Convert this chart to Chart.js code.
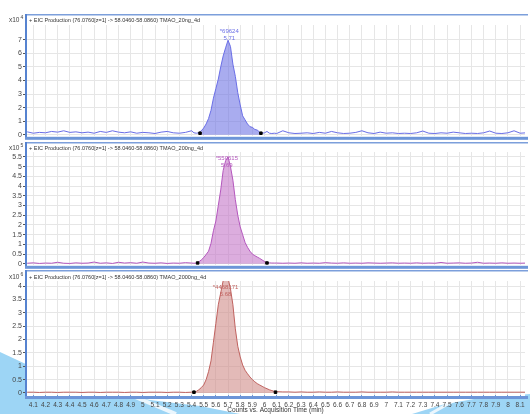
<!DOCTYPE html>
<html>
<head>
<meta charset="utf-8">
<script src="https://cdn.jsdelivr.net/npm/chart.js@4.4.0/dist/chart.umd.min.js"></script>
<style>
  html, body { margin: 0; padding: 0; background: #fff; }
  #wrap { position: relative; width: 530px; height: 414px; overflow: hidden; }
  #wrap svg { position: absolute; left: 0; top: 0; }
  .panel { position: absolute; left: 0; width: 530px; }
</style>
</head>
<body>
<div id="wrap">
  <svg width="530" height="414">
    <polygon points="0,352 30,366 70,380 110,392 150,400 200,406 240,414 0,414" fill="#9dd5f5"/>
    <line x1="128" y1="394" x2="176" y2="414" stroke="#ffffff" stroke-width="4" opacity="0.8"/>
    <polygon points="412,414 445,404 480,398 530,394 530,414" fill="#9dd5f5"/>
    <line x1="430" y1="414" x2="462" y2="396" stroke="#ffffff" stroke-width="3" opacity="0.8"/>
  </svg>
  <div class="panel" style="top:0;height:141px"><canvas id="c1" width="530" height="141"></canvas></div>
  <div class="panel" style="top:141px;height:129px"><canvas id="c2" width="530" height="129"></canvas></div>
  <div class="panel" style="top:270px;height:144px"><canvas id="c3" width="530" height="144"></canvas></div>
</div>
<script>
'use strict';

// acquisition time (min), shared by the three traces
const times = [
  4.05, 4.10, 4.15, 4.20, 4.25, 4.30, 4.35, 4.40, 4.45, 4.50, 4.55, 4.60, 4.65, 4.70,
  4.75, 4.80, 4.85, 4.90, 4.95, 5.00, 5.05, 5.10, 5.15, 5.20, 5.25, 5.30, 5.35, 5.40,
  5.42, 5.44, 5.46, 5.48, 5.50, 5.52, 5.54, 5.56, 5.58, 5.60, 5.62, 5.64, 5.66, 5.68,
  5.70, 5.72, 5.74, 5.76, 5.78, 5.80, 5.82, 5.84, 5.86, 5.88, 5.90, 5.92, 5.94, 5.96,
  5.98, 6.00, 6.02, 6.04, 6.06, 6.08, 6.10,
  6.15, 6.20, 6.25, 6.30, 6.35, 6.40, 6.45, 6.50, 6.55, 6.60, 6.65, 6.70, 6.75, 6.80,
  6.85, 6.90, 6.95, 7.00, 7.05, 7.10, 7.15, 7.20, 7.25, 7.30, 7.35, 7.40, 7.45, 7.50,
  7.55, 7.60, 7.65, 7.70, 7.75, 7.80, 7.85, 7.90, 7.95, 8.00, 8.05, 8.10, 8.15
];

// counts, x10^4
const counts20 = [
  0.22, 0.12, 0.18, 0.15, 0.25, 0.20, 0.30, 0.18, 0.22, 0.15, 0.20, 0.12, 0.25, 0.18,
  0.30, 0.20, 0.15, 0.22, 0.12, 0.18, 0.15, 0.10, 0.20, 0.25, 0.15, 0.12, 0.18, 0.30,
  0.15, 0.12, 0.15, 0.30, 0.50, 0.80, 1.20, 1.80, 2.70, 3.40, 4.10, 5.00, 5.80, 6.40,
  6.96, 6.50, 5.20, 4.30, 3.10, 2.20, 1.40, 1.10, 0.80, 0.60, 0.55, 0.40, 0.35, 0.20,
  0.12, 0.15, 0.25, 0.12, 0.10, 0.12, 0.10,
  0.30, 0.15, 0.10, 0.12, 0.15, 0.10, 0.18, 0.12, 0.25, 0.15, 0.10, 0.12, 0.18, 0.30,
  0.15, 0.10, 0.20, 0.12, 0.15, 0.10, 0.12, 0.10, 0.15, 0.28, 0.12, 0.10, 0.15, 0.12,
  0.20, 0.15, 0.10, 0.12, 0.10, 0.15, 0.28, 0.12, 0.10, 0.15, 0.30, 0.12, 0.15
];

// counts, x10^5
const counts200 = [
  0.03, 0.05, 0.02, 0.04, 0.03, 0.08, 0.03, 0.02, 0.05, 0.03, 0.04, 0.09, 0.03, 0.05,
  0.02, 0.08, 0.04, 0.06, 0.03, 0.09, 0.04, 0.03, 0.05, 0.02, 0.04, 0.03, 0.06, 0.04,
  0.03, 0.04, 0.10, 0.20, 0.32, 0.48, 0.65, 1.05, 1.70, 2.20, 3.00, 3.80, 4.80, 5.30,
  5.506, 5.00, 4.30, 3.30, 2.50, 1.90, 1.50, 1.10, 0.85, 0.65, 0.50, 0.42, 0.35, 0.28,
  0.20, 0.12, 0.07, 0.05, 0.04, 0.04, 0.04,
  0.03, 0.04, 0.03, 0.05, 0.03, 0.04, 0.03, 0.06, 0.04, 0.03, 0.05, 0.03, 0.04, 0.03,
  0.05, 0.04, 0.03, 0.04, 0.05, 0.03, 0.04, 0.03, 0.05, 0.03, 0.04, 0.03, 0.07, 0.03,
  0.04, 0.05, 0.03, 0.04, 0.08, 0.03, 0.04, 0.03, 0.05, 0.03, 0.04, 0.03, 0.04
];

// counts, x10^6
const counts2000 = [
  0.03, 0.03, 0.02, 0.03, 0.03, 0.02, 0.03, 0.03, 0.03, 0.02, 0.03, 0.03, 0.02, 0.03,
  0.03, 0.03, 0.02, 0.03, 0.03, 0.02, 0.03, 0.03, 0.03, 0.02, 0.03, 0.03, 0.02, 0.03,
  0.03, 0.06, 0.12, 0.20, 0.30, 0.50, 0.80, 1.20, 1.90, 2.60, 3.30, 3.75, 4.20, 4.47,
  4.30, 3.90, 3.30, 2.40, 1.75, 1.35, 1.05, 0.85, 0.72, 0.60, 0.50, 0.42, 0.35, 0.30,
  0.25, 0.20, 0.16, 0.12, 0.09, 0.06, 0.05,
  0.04, 0.04, 0.03, 0.04, 0.03, 0.03, 0.04, 0.03, 0.03, 0.04, 0.03, 0.03, 0.03, 0.04,
  0.03, 0.03, 0.03, 0.03, 0.04, 0.03, 0.03, 0.03, 0.03, 0.03, 0.03, 0.03, 0.03, 0.03,
  0.03, 0.03, 0.03, 0.03, 0.03, 0.03, 0.03, 0.03, 0.03, 0.03, 0.03, 0.03, 0.03
];

const xTicks = [
  4.1, 4.2, 4.3, 4.4, 4.5, 4.6, 4.7, 4.8, 4.9, 5.0, 5.1, 5.2, 5.3, 5.4, 5.5, 5.6, 5.7,
  5.8, 5.9, 6.0, 6.1, 6.2, 6.3, 6.4, 6.5, 6.6, 6.7, 6.8, 6.9, 7.0, 7.1, 7.2, 7.3, 7.4,
  7.5, 7.6, 7.7, 7.8, 7.9, 8.0, 8.1
];
const yTicks20 = [0, 1, 2, 3, 4, 5, 6, 7];
const yTicks200 = [0, 0.5, 1, 1.5, 2, 2.5, 3, 3.5, 4, 4.5, 5, 5.5];
const yTicks2000 = [0, 0.5, 1, 1.5, 2, 2.5, 3, 3.5, 4];

const sampleNames = ['TMAO_20ng_4d', 'TMAO_200ng_4d', 'TMAO_2000ng_4d'];
const exponents = ['4', '5', '6'];
const peakRts = ['5.71', '5.69', '5.68'];
const peakLabels = ['*69624', '*550615', '*4468171'];
const peakTimes = [5.71, 5.69, 5.68];
const integStart = [5.47, 5.45, 5.42];
const integEnd = [5.97, 6.02, 6.09];
const integLevel = [0.12, 0.04, 0.03];

const headerPrefix = '+ EIC Production (76.0760[z=1] -> 58.0460-58.0860) ';
const xTitle = 'Counts vs. Acquisition Time (min)';

function points(ys) {
  return times.map((t, i) => ({ x: t, y: ys[i] }));
}

function peakPoints(ys, from, to) {
  return times.map((t, i) => ({ x: t, y: (t >= from && t <= to) ? ys[i] : null }));
}

function decoPlugin(p) {
  return {
    id: 'deco' + p.idx,
    beforeDraw(chart) {
      const { ctx, chartArea: a } = chart;
      ctx.save();
      ctx.fillStyle = '#ffffff';
      ctx.fillRect(a.left, p.frameTop, a.right - a.left, a.bottom - p.frameTop + 1);
      ctx.restore();
    },
    afterDraw(chart) {
      const { ctx, chartArea: a } = chart;
      const xs = chart.scales.x, ys = chart.scales.y;
      ctx.save();
      // frame
      ctx.fillStyle = '#7c9fdb';
      ctx.fillRect(a.left, p.frameTop, a.right - a.left + 3, 1.5);
      ctx.fillStyle = '#5683d0';
      ctx.fillRect(a.left - 1, p.frameTop, 2, a.bottom - p.frameTop + 2);
      ctx.fillStyle = '#6d95d8';
      ctx.fillRect(a.left - 1, a.bottom + 1, a.right - a.left + 4, 3);

      // header
      ctx.fillStyle = '#333';
      ctx.textBaseline = 'middle';
      ctx.textAlign = 'left';
      ctx.font = '6px "Liberation Sans", Arial, sans-serif';
      ctx.save();
      ctx.translate(a.left + 3, p.headerY);
      ctx.scale(0.92, 1);
      ctx.fillText(headerPrefix + sampleNames[p.idx], 0, 0);
      ctx.restore();

      // exponent
      ctx.font = '6.5px "Liberation Sans", Arial, sans-serif';
      ctx.fillStyle = '#444';
      ctx.fillText('x10', 9, p.headerY);
      const w = ctx.measureText('x10').width;
      ctx.font = '5px "Liberation Sans", Arial, sans-serif';
      ctx.fillText(exponents[p.idx], 9 + w + 1, p.headerY - 2);

      // peak label
      const series = p.series;
      const apex = Math.max.apply(null, series);
      const px = xs.getPixelForValue(peakTimes[p.idx]);
      const y1 = Math.max(ys.getPixelForValue(apex) - 10, a.top + 6);
      ctx.fillStyle = p.line;
      ctx.textAlign = 'center';
      ctx.font = '6px "Liberation Sans", Arial, sans-serif';
      ctx.fillText(peakLabels[p.idx], px, y1);
      ctx.fillText(peakRts[p.idx], px, y1 + 7);

      if (p.showX) {
        ctx.fillStyle = '#333';
        ctx.font = '6.5px "Liberation Sans", Arial, sans-serif';
        ctx.fillText(xTitle, (a.left + a.right) / 2, a.bottom + 15);
      }
      ctx.restore();
    }
  };
}

function makePanel(p) {
  const ctx = document.getElementById(p.canvas).getContext('2d');
  const chartObj = {
    type: 'line',
    data: {
      datasets: [{
        data: [{ x: integStart[p.idx], y: integLevel[p.idx] }, { x: integEnd[p.idx], y: integLevel[p.idx] }],
        showLine: false,
        pointStyle: 'rect',
        pointRadius: 1.8,
        pointBackgroundColor: '#000',
        pointBorderColor: '#000',
        order: 0
      }, {
        data: points(p.series),
        borderColor: p.line,
        borderWidth: 1,
        pointRadius: 0,
        fill: false,
        order: 1
      }, {
        data: peakPoints(p.series, integStart[p.idx], integEnd[p.idx]),
        borderWidth: 0,
        borderColor: 'rgba(0,0,0,0)',
        backgroundColor: p.fill,
        pointRadius: 0,
        fill: 'origin',
        spanGaps: false,
        order: 2
      }]
    },
    options: {
      responsive: false,
      animation: false,
      events: [],
      layout: { padding: { top: p.top, bottom: p.bottom, left: 0, right: 3 } },
      plugins: { legend: { display: false }, tooltip: { enabled: false } },
      scales: {
        x: {
          type: 'linear',
          min: 4.04,
          max: 8.14,
          afterBuildTicks: s => { s.ticks = xTicks.map(v => ({ value: v })); },
          afterFit: s => { s.height = p.showX ? 19 : 0; },
          border: { display: false },
          grid: {
            color: '#e6e6e6',
            drawTicks: p.showX,
            tickLength: 3,
            tickColor: '#6d95d8'
          },
          ticks: {
            display: p.showX,
            autoSkip: false,
            maxRotation: 0,
            padding: 3,
            color: '#444',
            font: { size: 6.5, family: '"Liberation Sans", Arial, sans-serif' },
            callback: v => String(Number(v.toFixed(1)))
          }
        },
        y: {
          min: p.yMin,
          max: p.yMax,
          afterBuildTicks: s => { s.ticks = p.yTicks.map(v => ({ value: v })); },
          afterFit: s => { s.width = 26; },
          border: { display: false },
          grid: { color: '#e6e6e6', tickLength: 3, tickColor: '#555' },
          ticks: {
            autoSkip: false,
            padding: 1,
            color: '#444',
            font: { size: 7, family: '"Liberation Sans", Arial, sans-serif' },
            callback: v => String(v)
          }
        }
      }
    },
    plugins: [decoPlugin(p)]
  };
  return new Chart(ctx, chartObj);
}

makePanel({
  idx: 0, canvas: 'c1', series: counts20, yTicks: yTicks20,
  yMin: -0.07, yMax: 8.08, top: 25, bottom: 3, frameTop: 14, headerY: 20,
  line: '#6a6ee6', fill: 'rgba(112,116,228,0.6)', showX: false
});
makePanel({
  idx: 1, canvas: 'c2', series: counts200, yTicks: yTicks200,
  yMin: -0.05, yMax: 5.75, top: 11, bottom: 3, frameTop: 1, headerY: 7,
  line: '#b457bd', fill: 'rgba(196,118,200,0.6)', showX: false
});
makePanel({
  idx: 2, canvas: 'c3', series: counts2000, yTicks: yTicks2000,
  yMin: -0.075, yMax: 4.19, top: 11, bottom: 0, frameTop: 0, headerY: 7,
  line: '#c0625f', fill: 'rgba(208,140,136,0.6)', showX: true
});
</script>
</body>
</html>
